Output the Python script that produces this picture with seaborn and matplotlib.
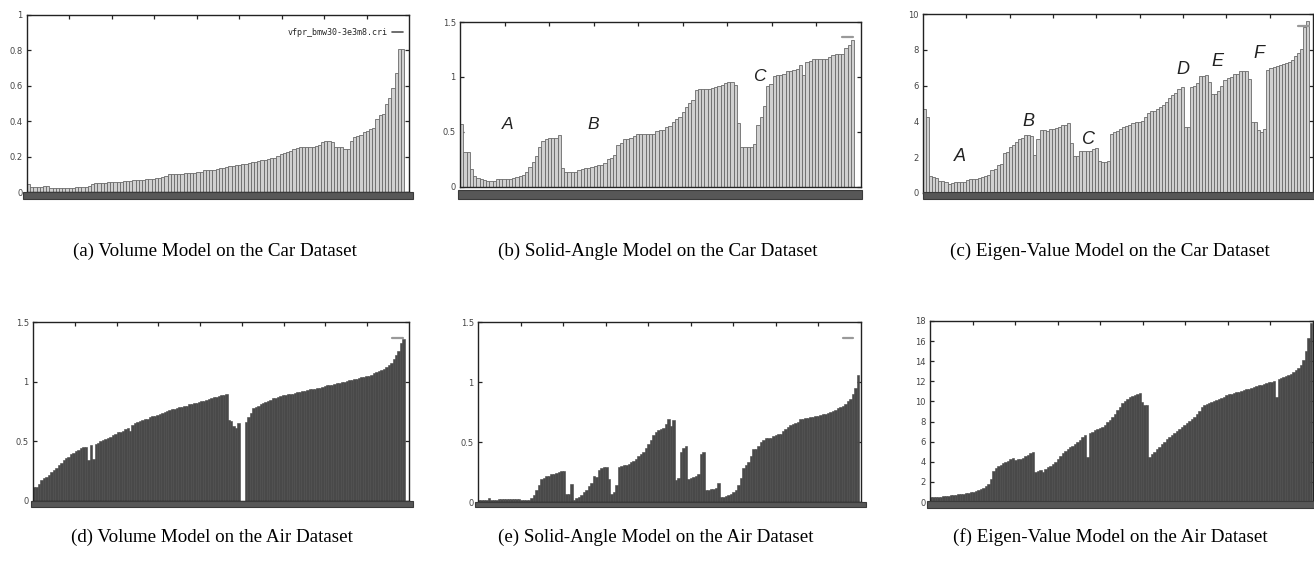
import numpy as np
import pandas as pd
import matplotlib
matplotlib.use("Agg")
import matplotlib.pyplot as plt
import seaborn as sns
from matplotlib.patches import Rectangle
from matplotlib.lines import Line2D

sns.set_style("ticks")
plt.rcParams['font.family'] = ['DejaVu Sans']

# -----------------------------
# Values (one value per bar)
# -----------------------------
car_volume = [
    0.047, 0.03, 0.03, 0.029, 0.03, 0.035, 0.035, 0.025, 0.025, 0.024, 0.025, 0.025, 0.024, 0.025, 0.025, 0.026,
    0.03, 0.03, 0.031, 0.032, 0.045, 0.05, 0.05, 0.051, 0.052, 0.055, 0.055, 0.056, 0.056, 0.057,
    0.06, 0.06, 0.062, 0.065, 0.065, 0.066, 0.068, 0.072, 0.073, 0.075, 0.08, 0.08, 0.082, 0.09,
    0.1, 0.1, 0.101, 0.102, 0.103, 0.106, 0.107, 0.108, 0.109, 0.112, 0.114,
    0.122, 0.122, 0.123, 0.125, 0.132, 0.135, 0.137, 0.14, 0.146, 0.148, 0.15, 0.155, 0.156, 0.158,
    0.165, 0.167, 0.168, 0.173, 0.182, 0.183, 0.185, 0.19, 0.191, 0.204, 0.215, 0.219, 0.228, 0.232,
    0.243, 0.247, 0.255, 0.255, 0.255, 0.256, 0.256, 0.262, 0.266, 0.282, 0.287, 0.286, 0.283,
    0.256, 0.254, 0.252, 0.245, 0.242, 0.29, 0.31, 0.318, 0.322, 0.338, 0.342, 0.358, 0.362,
    0.41, 0.435, 0.438, 0.5, 0.53, 0.59, 0.67, 0.81, 0.81,
]

car_solid = [
    0.57, 0.32, 0.32, 0.16, 0.097, 0.082, 0.07, 0.068, 0.058, 0.058, 0.058,
    0.075, 0.076, 0.076, 0.077, 0.077, 0.078, 0.09, 0.104, 0.108, 0.136, 0.18, 0.227, 0.28, 0.36, 0.42,
    0.44, 0.445, 0.446, 0.447, 0.47, 0.176, 0.133, 0.133, 0.134, 0.135, 0.155, 0.16, 0.17, 0.175,
    0.186, 0.19, 0.198, 0.202, 0.218, 0.25, 0.265, 0.288, 0.38, 0.4, 0.435, 0.44, 0.445, 0.46,
    0.478, 0.48, 0.48, 0.48, 0.481, 0.482, 0.51, 0.515, 0.52, 0.545, 0.555, 0.59, 0.62, 0.636,
    0.68, 0.73, 0.76, 0.79, 0.885, 0.89, 0.892, 0.894, 0.895, 0.896, 0.912, 0.918, 0.924,
    0.948, 0.95, 0.95, 0.93, 0.58, 0.36, 0.36, 0.36, 0.362, 0.39, 0.56, 0.636, 0.74, 0.92, 0.933,
    1.01, 1.015, 1.018, 1.024, 1.05, 1.056, 1.06, 1.076, 1.106, 1.015, 1.136, 1.15,
    1.16, 1.162, 1.164, 1.165, 1.166, 1.18, 1.2, 1.205, 1.207, 1.208, 1.264, 1.288, 1.333,
]

car_eigen = [
    4.67, 4.22, 0.93, 0.92, 0.86, 0.68, 0.66, 0.62, 0.52, 0.58, 0.6, 0.61, 0.62, 0.63, 0.71,
    0.79, 0.8, 0.81, 0.84, 0.9, 0.97, 1.0, 1.27, 1.33, 1.55, 1.64, 2.24, 2.3, 2.58, 2.67, 2.86,
    2.99, 3.1, 3.22, 3.24, 3.18, 2.11, 2.99, 3.5, 3.52, 3.48, 3.58, 3.6, 3.65, 3.67, 3.8, 3.82,
    3.93, 2.8, 2.05, 2.07, 2.33, 2.34, 2.34, 2.35, 2.45, 2.54, 1.78, 1.72, 1.72, 1.8,
    3.29, 3.4, 3.44, 3.55, 3.66, 3.77, 3.8, 3.89, 3.95, 3.97, 4.04, 4.26, 4.45, 4.56, 4.6,
    4.67, 4.79, 4.9, 5.1, 5.29, 5.48, 5.6, 5.79, 5.9, 3.66, 3.66, 5.94, 5.98, 6.17, 6.54,
    6.56, 6.58, 6.22, 5.52, 5.53, 5.72, 5.98, 6.32, 6.45, 6.47, 6.63, 6.66, 6.8, 6.82, 6.82,
    6.37, 3.98, 3.98, 3.51, 3.38, 3.55, 6.88, 6.97, 7.05, 7.08, 7.14, 7.21, 7.28, 7.3,
    7.44, 7.63, 7.81, 8.04, 9.3, 9.63,
]

air_volume = [
    0.12, 0.12, 0.14, 0.18, 0.19, 0.2, 0.22, 0.24, 0.26, 0.28,
    0.3, 0.32, 0.34, 0.36, 0.37, 0.39, 0.4, 0.42, 0.43, 0.44,
    0.45, 0.45, 0.34, 0.47, 0.35, 0.48, 0.49, 0.5, 0.51, 0.52,
    0.53, 0.54, 0.55, 0.56, 0.575, 0.58, 0.59, 0.6, 0.61, 0.585,
    0.64, 0.65, 0.66, 0.67, 0.675, 0.685, 0.69, 0.7, 0.71, 0.715,
    0.72, 0.73, 0.74, 0.75, 0.755, 0.76, 0.77, 0.775, 0.78, 0.785,
    0.79, 0.8, 0.8, 0.81, 0.815, 0.82, 0.825, 0.83, 0.835, 0.84,
    0.85, 0.855, 0.86, 0.87, 0.875, 0.88, 0.885, 0.89, 0.895, 0.675,
    0.67, 0.63, 0.61, 0.65, 0.0, 0.0, 0.66, 0.7, 0.74, 0.78,
    0.79, 0.8, 0.81, 0.82, 0.83, 0.84, 0.85, 0.86, 0.865, 0.87,
    0.88, 0.885, 0.89, 0.895, 0.9, 0.9, 0.905, 0.91, 0.915, 0.92,
    0.925, 0.93, 0.935, 0.94, 0.94, 0.945, 0.95, 0.955, 0.96, 0.97,
    0.97, 0.975, 0.98, 0.985, 0.99, 0.995, 1.0, 1.005, 1.01, 1.015,
    1.02, 1.025, 1.03, 1.035, 1.04, 1.045, 1.05, 1.06, 1.07, 1.08,
    1.09, 1.1, 1.11, 1.12, 1.14, 1.16, 1.19, 1.22, 1.26, 1.32, 1.36,
]

air_solid = [
    0.015, 0.015, 0.015, 0.015, 0.035, 0.015, 0.015, 0.015, 0.028, 0.028,
    0.028, 0.028, 0.025, 0.028, 0.028, 0.028, 0.025, 0.02, 0.02, 0.02,
    0.02, 0.035, 0.06, 0.1, 0.14, 0.19, 0.2, 0.215, 0.22, 0.23,
    0.235, 0.24, 0.25, 0.255, 0.26, 0.07, 0.07, 0.15, 0.015, 0.03,
    0.04, 0.055, 0.08, 0.1, 0.13, 0.16, 0.22, 0.21, 0.27, 0.28,
    0.29, 0.29, 0.19, 0.07, 0.08, 0.14, 0.29, 0.3, 0.31, 0.31,
    0.32, 0.33, 0.34, 0.36, 0.38, 0.4, 0.42, 0.45, 0.48, 0.52,
    0.56, 0.58, 0.6, 0.61, 0.62, 0.65, 0.69, 0.63, 0.68, 0.18,
    0.2, 0.42, 0.45, 0.47, 0.19, 0.2, 0.21, 0.22, 0.235, 0.4,
    0.42, 0.1, 0.1, 0.105, 0.11, 0.12, 0.16, 0.04, 0.045, 0.05,
    0.06, 0.07, 0.08, 0.1, 0.14, 0.2, 0.28, 0.31, 0.33, 0.38,
    0.445, 0.445, 0.47, 0.5, 0.52, 0.53, 0.53, 0.535, 0.55, 0.56,
    0.565, 0.57, 0.59, 0.61, 0.625, 0.64, 0.65, 0.66, 0.665, 0.695,
    0.695, 0.7, 0.7, 0.705, 0.71, 0.715, 0.72, 0.725, 0.73, 0.735,
    0.74, 0.75, 0.76, 0.77, 0.78, 0.79, 0.8, 0.82, 0.84, 0.86,
    0.9, 0.95, 1.055,
]

air_eigen = [
    0.5, 0.5, 0.5, 0.5, 0.5, 0.6, 0.6, 0.6, 0.65, 0.73,
    0.73, 0.75, 0.78, 0.83, 0.85, 0.88, 0.95, 1.0, 1.06, 1.2,
    1.3, 1.4, 1.6, 1.8, 2.3, 3.1, 3.4, 3.6, 3.7, 3.85,
    3.95, 4.1, 4.25, 4.35, 4.15, 4.25, 4.25, 4.4, 4.55, 4.7,
    4.85, 4.95, 3.0, 3.1, 3.2, 2.95, 3.3, 3.45, 3.6, 3.8,
    4.0, 4.3, 4.6, 4.85, 5.1, 5.3, 5.45, 5.6, 5.8, 6.0,
    6.2, 6.45, 6.7, 4.5, 6.85, 7.0, 7.15, 7.3, 7.4, 7.5,
    7.7, 7.95, 8.2, 8.45, 8.75, 9.1, 9.45, 9.8, 10.0, 10.2,
    10.4, 10.5, 10.6, 10.7, 10.8, 9.95, 9.65, 9.6, 4.5, 4.8,
    5.0, 5.3, 5.5, 5.75, 6.0, 6.3, 6.5, 6.7, 6.9, 7.1,
    7.3, 7.5, 7.7, 7.85, 8.05, 8.3, 8.5, 8.8, 9.05, 9.4,
    9.6, 9.75, 9.85, 9.95, 10.05, 10.15, 10.25, 10.35, 10.45, 10.6,
    10.7, 10.75, 10.85, 10.9, 10.95, 11.05, 11.1, 11.2, 11.25, 11.35,
    11.45, 11.5, 11.6, 11.65, 11.75, 11.8, 11.9, 11.95, 12.0, 10.45,
    12.2, 12.3, 12.4, 12.5, 12.6, 12.75, 12.9, 13.1, 13.3, 13.6,
    14.1, 15.0, 16.3, 17.8,
]

captions = [
    "(a) Volume Model on the Car Dataset",
    "(b) Solid-Angle Model on the Car Dataset",
    "(c) Eigen-Value Model on the Car Dataset",
    "(d) Volume Model on the Air Dataset",
    "(e) Solid-Angle Model on the Air Dataset",
    "(f) Eigen-Value Model on the Air Dataset",
]

yticks_a = [0, 0.2, 0.4, 0.6, 0.8, 1]
ylabels_a = ["0", "0.2", "0.4", "0.6", "0.8", "1"]
yticks_half = [0, 0.5, 1, 1.5]
ylabels_half = ["0", "0.5", "1", "1.5"]
yticks_c = [0, 2, 4, 6, 8, 10]
ylabels_c = ["0", "2", "4", "6", "8", "10"]
yticks_f = [0, 2, 4, 6, 8, 10, 12, 14, 16, 18]
ylabels_f = ["0", "2", "4", "6", "8", "10", "12", "14", "16", "18"]

letters_b = ["A", "B", "C"]
letters_c = ["A", "B", "C", "D", "E", "F"]

W, H = 1314, 572
fig = plt.figure(figsize=(W / 100, H / 100), dpi=100)

# panel setup: pixel box (left, right, top, bottom), data, y-range, style
panels = [
    dict(box=(27, 409, 15, 192), vals=car_volume, ymax=1.0, yt=yticks_a, yl=ylabels_a,
         kind="car", rpad=1.5, strip=(23, 413, 192, 199), leg=("vfpr_bmw30-3e3m8.cri", 0.985, 0.9)),
    dict(box=(460, 861, 22, 187), vals=car_solid, ymax=1.5, yt=yticks_half, yl=ylabels_half,
         kind="car", rpad=2.1, strip=(458, 862, 190, 199), leg=("", 0.98, 0.905)),
    dict(box=(923, 1313, 14, 193), vals=car_eigen, ymax=10, yt=yticks_c, yl=ylabels_c,
         kind="car", rpad=1.2, strip=(923, 1314, 192, 199), leg=("", 0.99, 0.933)),
    dict(box=(33, 409, 322, 501), vals=air_volume, ymax=1.5, yt=yticks_half, yl=ylabels_half,
         kind="air", rpad=1.7, strip=(31, 413, 501, 507), leg=("", 0.984, 0.91)),
    dict(box=(478, 861, 322, 502), vals=air_solid, ymax=1.5, yt=yticks_half, yl=ylabels_half,
         kind="air", rpad=0.7, strip=(475, 866, 502, 507), leg=("", 0.98, 0.91)),
    dict(box=(930, 1313, 321, 502), vals=air_eigen, ymax=18, yt=yticks_f, yl=ylabels_f,
         kind="air", rpad=0.3, strip=(927, 1314, 501, 508), leg=None),
]

axes = []
for p in panels:
    l, r, t, b = p["box"]
    ax = fig.add_axes([l / W, 1 - b / H, (r - l) / W, (b - t) / H])
    axes.append(ax)
    df = pd.DataFrame({"idx": np.arange(len(p["vals"])), "val": p["vals"]})
    if p["kind"] == "car":
        sns.barplot(data=df, x="idx", y="val", ax=ax, color="#d0d0d0", saturation=1,
                    width=1, edgecolor="#6a6a6a", linewidth=0.6, errorbar=None)
    else:
        sns.barplot(data=df, x="idx", y="val", ax=ax, color="#494949", saturation=1,
                    width=1, edgecolor="#494949", linewidth=0.4, errorbar=None)
    n = len(p["vals"])
    x0, x1 = -0.5, n - 0.5 + p["rpad"]
    ax.set_xlim(x0, x1)
    ax.set_ylim(0, p["ymax"])
    ax.set_xlabel("")
    ax.set_ylabel("")
    ax.set_xticks(np.linspace(x0, x1, 10)[1:-1])
    ax.set_xticklabels([])
    ax.set_yticks(p["yt"])
    ax.set_yticklabels(p["yl"])
    ax.tick_params(axis="x", direction="in", length=3, width=0.9, top=True, bottom=False,
                   labelbottom=False, color="#222")
    ax.tick_params(axis="y", direction="in", length=3, width=0.9, right=True, labelsize=6,
                   labelcolor="#444", pad=3, color="#222")
    for s in ax.spines.values():
        s.set_color("#222")
        s.set_linewidth(1.0)

    # dark strip covering the x axis
    sl, sr, st, sb = p["strip"]
    ax.add_patch(Rectangle(((sl - l) / (r - l), -(sb - b) / (b - t)), (sr - sl) / (r - l),
                           (sb - st) / (b - t), transform=ax.transAxes, clip_on=False,
                           facecolor="#575757", edgecolor="#3a3a3a", linewidth=0.8, zorder=5))

    if p["leg"] is not None:
        label, lx, ly = p["leg"]
        handle = Line2D([], [], color="#555" if label else "#999", lw=1.2 if label else 1.6)
        ax.legend([handle], [label], loc="center right", bbox_to_anchor=(lx, ly),
                  frameon=False, markerfirst=False, handlelength=1.3, handletextpad=0.6,
                  borderaxespad=0, borderpad=0,
                  prop={"family": "DejaVu Sans Mono", "size": 6})

# region letters
ax_b, ax_c = axes[1], axes[2]
for txt, (fx, fy) in zip(letters_b, [(0.12, 0.38), (0.333, 0.38), (0.746, 0.667)]):
    ax_b.text(fx, fy, txt, transform=ax_b.transAxes, ha="center", va="center",
              fontsize=12.5, style="italic", color="#222", family="Liberation Sans")
for txt, (fx, fy) in zip(letters_c, [(0.095, 0.205), (0.27, 0.4), (0.424, 0.3),
                                     (0.667, 0.69), (0.754, 0.735), (0.862, 0.78)]):
    ax_c.text(fx, fy, txt, transform=ax_c.transAxes, ha="center", va="center",
              fontsize=13, style="italic", color="#222", family="Liberation Sans")

# captions
cap_pos = [(215, 251), (658, 251), (1110, 251), (212, 537), (656, 537), (1110, 537)]
for cap, (cx, cy) in zip(captions, cap_pos):
    fig.text(cx / W, 1 - cy / H, cap, ha="center", va="center", fontsize=13.7,
             family="Liberation Serif", color="black")

fig.savefig("out.png", dpi=100, facecolor="white")
